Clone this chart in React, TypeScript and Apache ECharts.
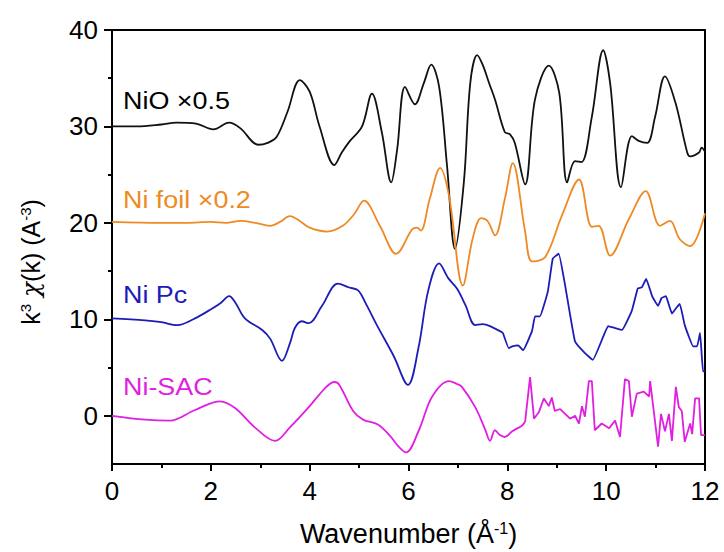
import React, { useEffect, useRef } from "react";
import * as echarts from "echarts";

const yMajorTicks = [0, 10, 20, 30, 40];
const yMinorTicks = [5, 15, 25, 35];

const seriesNames = ["NiO ×0.5", "Ni foil ×0.2", "Ni Pc", "Ni-SAC"];

const nioData = [
  [0, 30], [0.5, 30], [1.0, 30.2], [1.3, 30.4], [1.7, 30.3], [2.05, 29.7], [2.37, 30.4], [2.6, 29.8],
  [2.96, 28.1], [3.15, 28.3], [3.33, 28.9], [3.55, 31.5], [3.8, 34.8], [4.0, 33.6], [4.2, 30.0], [4.5, 26.0],
  [4.65, 27.3], [4.8, 28.4], [5.06, 30.0], [5.26, 33.4], [5.46, 29.4], [5.65, 24.2], [5.77, 27.6], [5.93, 34.1],
  [6.13, 32.3], [6.31, 34.5], [6.46, 36.4], [6.62, 34.1], [6.78, 25.9], [6.94, 17.3], [7.12, 24.2], [7.25, 34.5],
  [7.39, 37.4], [7.5, 36.4], [7.63, 34.5], [7.75, 32.8], [7.95, 29.4], [8.05, 29.2], [8.15, 28.3], [8.36, 24.0],
  [8.56, 32.8], [8.84, 36.3], [9.05, 33.5], [9.21, 24.2], [9.37, 26.4], [9.5, 26.3], [9.71, 31.0], [9.94, 37.9],
  [10.08, 34.5], [10.3, 23.7], [10.52, 29.0], [10.66, 28.5], [10.83, 28.3], [10.99, 31.0], [11.19, 35.2],
  [11.4, 32.5], [11.64, 27.3], [11.7, 26.9], [11.88, 27.3], [11.93, 27.8], [12, 27.4],
];

const niFoilData = [
  [0, 20.1], [1.0, 20.0], [1.5, 20.0], [2.0, 20.1], [2.3, 20.0], [2.6, 20.2], [2.9, 20.0], [3.2, 19.7],
  [3.4, 20.1], [3.6, 20.7], [3.8, 20.2], [4.0, 19.5], [4.35, 19.1], [4.67, 19.7], [4.9, 20.9], [5.1, 22.3],
  [5.42, 19.7], [5.75, 16.8], [6.07, 19.3], [6.17, 19.5], [6.25, 19.2], [6.43, 22.5], [6.64, 25.7],
  [6.82, 22.8], [7.1, 13.5], [7.3, 18.4], [7.47, 20.5], [7.6, 20.2], [7.75, 18.7], [7.95, 22.5], [8.11, 26.2],
  [8.36, 19.1], [8.5, 16.0], [8.77, 16.5], [9.1, 20.7], [9.45, 24.5], [9.71, 19.6], [9.85, 19.7], [10.08, 16.6],
  [10.46, 20.4], [10.8, 23.3], [11.09, 19.7], [11.29, 20.2], [11.49, 18.3], [11.7, 17.6], [12, 21.0],
];

// Ni Pc: smooth low-k part and noisier high-k part (joined at k = 7.91)
const niPcLowK = [
  [0, 10.1], [0.67, 9.9], [1.0, 9.7], [1.32, 9.4], [1.68, 10.1], [2.02, 11.1], [2.2, 11.7], [2.37, 12.4],
  [2.5, 11.7], [2.69, 10.1], [3.04, 8.9], [3.2, 8.0], [3.44, 5.7], [3.6, 7.5], [3.7, 9.1], [3.84, 9.8],
  [3.98, 9.6], [4.25, 11.4], [4.57, 13.7], [4.8, 13.3], [4.98, 13.0], [5.15, 11.5], [5.36, 9.4], [5.7, 6.2],
  [5.99, 3.2], [6.2, 7.0], [6.4, 13.0], [6.62, 15.8], [6.8, 14.3], [6.98, 13.2], [7.15, 11.5], [7.35, 9.4],
  [7.5, 9.5], [7.65, 9.3], [7.91, 8.6],
];
const niPcHighK = [
  [7.91, 8.6], [8.03, 7.0], [8.1, 7.2], [8.22, 7.3], [8.32, 6.8], [8.5, 8.8],
  [8.56, 10.3], [8.66, 10.3], [8.82, 12.9], [8.92, 16.3], [9.04, 16.8], [9.17, 13.5], [9.37, 7.7],
  [9.57, 6.5], [9.73, 5.8], [9.94, 8.2], [10.04, 9.3], [10.18, 9.1], [10.32, 8.9], [10.52, 10.9],
  [10.64, 13.2], [10.72, 13.3], [10.81, 14.2], [10.93, 12.4], [11.05, 11.4], [11.12, 12.2], [11.21, 12.4],
  [11.27, 11.5], [11.33, 10.6], [11.42, 11.2], [11.49, 11.6], [11.59, 9.4], [11.76, 7.2], [11.84, 7.2],
  [11.9, 8.6], [11.96, 4.6], [12, 4.6],
];

// Ni-SAC: smooth low-k part and noisy high-k part (joined at k = 8.36)
const niSacLowK = [
  [0, 0], [0.67, -0.4], [1.17, -0.5], [1.68, 0.6], [2.19, 1.5], [2.49, 0.8], [2.89, -1.2], [3.3, -2.6],
  [3.6, -1.2], [4.0, 1.0], [4.3, 2.8], [4.5, 3.5], [4.6, 3.2], [4.88, 0.5], [5.08, -0.4], [5.38, -0.9],
  [5.63, -2.1], [5.8, -3.2], [5.95, -3.8], [6.21, -1.5], [6.48, 2.0], [6.82, 3.6], [6.98, 3.3], [7.08, 3.0],
  [7.35, 0.9], [7.55, -1.4], [7.65, -2.6], [7.75, -1.5], [7.85, -2.0], [7.95, -2.2], [8.1, -1.6], [8.3, -1.0],
  [8.36, -0.6],
];
const niSacHighK = [
  [8.36, -0.6], [8.46, 4.0], [8.54, -0.3], [8.64, 0.4], [8.74, 1.8], [8.84, 1.0], [8.9, 1.9], [8.96, 0.5],
  [9.07, 0.7], [9.17, 0.2], [9.27, -0.3], [9.37, 0.0], [9.45, -0.8], [9.51, 1.0], [9.57, -0.1], [9.65, 3.6],
  [9.71, 3.6], [9.77, -1.5], [9.91, -0.8], [10.06, -1.3], [10.18, -0.5], [10.28, -2.2], [10.38, 3.8],
  [10.46, 3.6], [10.52, -0.1], [10.62, 2.3], [10.76, 2.5], [10.87, 2.0], [10.89, 3.6], [10.97, 0.2],
  [11.05, -3.2], [11.11, 0.2], [11.19, -1.6], [11.27, 0.2], [11.33, -2.6], [11.41, 3.0], [11.47, 0.9],
  [11.53, 0.5], [11.59, -2.7], [11.7, -0.8], [11.74, -1.9], [11.8, 1.8], [11.88, 1.8], [11.92, -2.0], [12, -2.0],
];

const colors = ["#111111", "#EE8A25", "#1C1CB8", "#E01FE0"];
const FONT = "'Liberation Sans', Arial, sans-serif";

export default function App() {
  const ref = useRef<HTMLDivElement>(null);
  useEffect(() => {
    if (!ref.current) return;
    const chart = echarts.init(ref.current, null, { renderer: "svg" });
    const labelPos = [101, 200, 295, 387];
    const parts: [number[][], number, number][] = [
      [nioData, 0, 0.35],
      [niFoilData, 1, 0.35],
      [niPcLowK, 2, 0.35],
      [niPcHighK, 2, 0.1],
      [niSacLowK, 3, 0.35],
      [niSacHighK, 3, 0],
    ];
    const ts = () => ({ color: "#000", width: 2 });
    const option: any = {
      animation: false,
      backgroundColor: "#fff",
      grid: { left: 112, top: 30, right: 19, bottom: 85 },
      xAxis: [
        {
          type: "value", min: 0, max: 12, interval: 2,
          axisLine: { show: true, onZero: false, lineStyle: ts() },
          axisTick: { show: true, length: 7, lineStyle: ts() },
          minorTick: { show: true, splitNumber: 2, length: 4, lineStyle: ts() },
          splitLine: { show: false },
          axisLabel: { fontSize: 26, color: "#000", margin: 14, fontFamily: FONT },
          name: "Wavenumber (Å{s|-1})",
          nameLocation: "middle", nameGap: 56,
          nameTextStyle: { fontSize: 27, color: "#000", fontFamily: FONT,
            rich: { s: { fontSize: 16, verticalAlign: "top", color: "#000", fontFamily: FONT } } },
        },
        {
          type: "value", min: 0, max: 12, position: "top",
          axisLine: { show: true, onZero: false, lineStyle: ts() },
          axisTick: { show: false }, axisLabel: { show: false }, splitLine: { show: false },
        },
      ],
      yAxis: [
        {
          type: "value", min: -5, max: 40,
          axisLine: { show: true, onZero: false, lineStyle: ts() },
          axisTick: { show: true, length: 8, customValues: yMajorTicks, lineStyle: ts() },
          axisLabel: { fontSize: 26, color: "#000", margin: 14, fontFamily: FONT, customValues: yMajorTicks },
          splitLine: { show: false },
          name: "{n|k}{s|3}{n| }{c|χ}{n|(k) (A}{s|-3}{n|)}",
          nameLocation: "middle", nameGap: 69, nameRotate: 90,
          nameTextStyle: { color: "#000", fontFamily: FONT, padding: [0, 30, 0, 0],
            rich: {
              n: { fontSize: 25, color: "#000", fontFamily: FONT },
              c: { fontSize: 25, color: "#000", fontFamily: "'DejaVu Serif', serif", fontStyle: "italic" },
              s: { fontSize: 15, verticalAlign: "top", color: "#000", fontFamily: FONT },
            } },
        },
        {
          type: "value", min: -5, max: 40, position: "left",
          axisLine: { show: false, onZero: false },
          axisTick: { show: true, length: 4, customValues: yMinorTicks, lineStyle: ts() },
          axisLabel: { show: false },
          splitLine: { show: false },
        },
        {
          type: "value", min: -5, max: 40, position: "right",
          axisLine: { show: true, onZero: false, lineStyle: ts() },
          axisTick: { show: false }, axisLabel: { show: false }, splitLine: { show: false },
        },
      ],
      series: parts.map(([d, ci, sm]) => ({
        type: "line",
        name: seriesNames[ci],
        data: d,
        xAxisIndex: 0,
        yAxisIndex: 0,
        showSymbol: false,
        smooth: sm,
        lineStyle: { color: colors[ci], width: 1.8 },
        itemStyle: { color: colors[ci] },
      })),
      graphic: seriesNames.map((t, i) => ({
        type: "text",
        x: 123, y: labelPos[i], scaleX: 1.17,
        style: { text: t, fill: i === 0 ? "#000" : colors[i], font: `23px ${FONT}`, textAlign: "left", textVerticalAlign: "middle" },
      })),
    };
    chart.setOption(option);
    return () => chart.dispose();
  }, []);
  return <div ref={ref} style={{ position: "fixed", left: 0, top: 0, width: 724, height: 552 }} />;
}
